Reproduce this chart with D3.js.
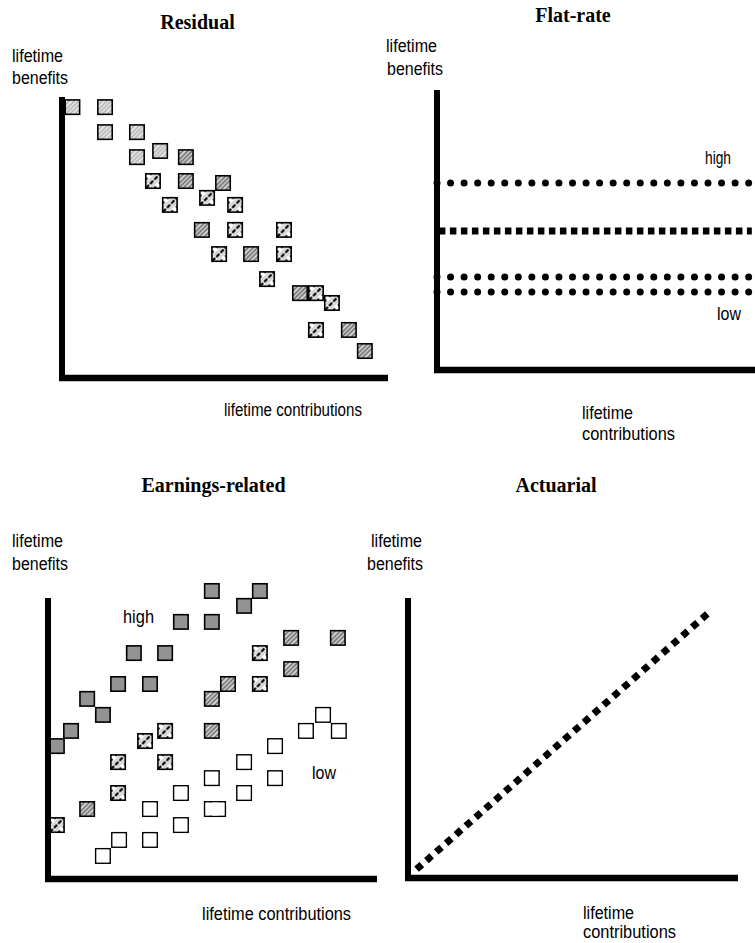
<!DOCTYPE html>
<html><head><meta charset="utf-8">
<script src="https://cdn.jsdelivr.net/npm/d3@7"></script>
<style>body{margin:0;background:#fff} svg{display:block}</style>
</head><body><svg id="c" width="755" height="943"></svg>
<script>
// ---------- data ----------
const titles = ["Residual", "Flat-rate", "Earnings-related", "Actuarial"];
const yLabelLines = ["lifetime", "benefits"];
const xLabelText = "lifetime contributions";
const xLabelLines = ["lifetime", "contributions"];

// Residual: contributions (x), benefits (y), hatch tone
const residualX = [3.2,13.2,13.2,23.0,23.0,30.1,38.0,27.9,38.0,49.4,44.5,33.1,53.1,42.9,53.1,68.1,48.2,58.0,68.1,62.9,73.0,77.9,82.8,77.9,88.0,92.9];
const residualY = [96.4,96.4,87.5,87.5,78.6,80.8,78.6,70.1,70.1,69.4,64.1,61.6,61.6,52.7,52.7,52.7,44.1,44.1,44.1,35.2,30.2,30.2,26.7,17.1,17.1,9.6];
const residualTone = ["light","light","light","light","light","light","medium","dark","medium","medium","dark","dark","dark","medium","dark","dark","dark","medium","dark","dark","medium","dark","dark","dark","medium","medium"];

// Flat-rate: benefit levels (flat lines)
const flatNames = ["high", "middle", "low-a", "low-b"];
const flatLevels = [66.8, 49.6, 33.2, 27.9];
const flatFrom = [0, 0.6, 0, 0];
const flatTo = [99, 99, 99, 99];

// Earnings-related: high earners (grey)
const highX = [49.8,64.4,59.6,40.4,49.8,26.1,35.6,21.3,31.0,11.9,16.7,7.0,2.7];
const highY = [102.5,102.5,97.2,91.5,91.5,80.4,80.4,69.4,69.4,64.1,58.4,52.7,47.3];
// middle earners (hatched)
const midX = [73.9,88.1,64.4,73.9,54.7,64.4,49.8,35.6,49.8,29.5,21.3,35.6,21.3,11.9,2.7];
const midY = [85.8,85.8,80.4,74.7,69.4,69.4,64.1,52.7,52.7,49.1,41.6,41.6,30.6,24.9,19.2];
const midTone = ["medium","medium","dark","medium","medium","dark","medium","dark","medium","dark","dark","dark","dark","medium","dark"];
// low earners (white)
const lowX = [78.4,83.6,88.4,69.0,69.0,59.6,59.6,49.8,49.8,51.7,40.4,40.4,31.0,31.0,21.6,16.7];
const lowY = [52.7,58.4,52.7,47.3,35.9,41.6,30.6,35.9,24.9,24.9,30.6,19.2,24.9,13.9,13.9,8.2];

// Actuarial: benefits proportional to contributions
const actX = [2.6, 90.7];
const actY = [3.15, 94.3];

// ---------- drawing ----------
const svg = d3.select("#c");
const defs = svg.append("defs");
const SANS = "'Liberation Sans Narrow','Arial Narrow','Liberation Sans',Arial,sans-serif";
const SERIF = "'Liberation Serif','Times New Roman',serif";

function diag(c) {
  return c <= 1 ? [0, c, c, 0] : [c - 1, 1, 1, c - 1];
}
function hatch(id, bg, groups) {
  const p = defs.append("pattern").attr("id", id)
    .attr("patternUnits", "objectBoundingBox")
    .attr("patternContentUnits", "objectBoundingBox")
    .attr("width", 1).attr("height", 1);
  p.append("rect").attr("width", 1).attr("height", 1).attr("fill", bg);
  groups.forEach(g => g.c.forEach(c => {
    const [x1, y1, x2, y2] = diag(c);
    p.append("line").attr("x1", x1).attr("y1", y1).attr("x2", x2).attr("y2", y2)
      .attr("stroke", g.color).attr("stroke-width", g.w)
      .attr("stroke-dasharray", g.dash || null);
  }));
}
hatch("h-light", "#f0f0f0", [{c: [0.35, 0.7, 1.0, 1.3, 1.65], color: "#b4b4b4", w: 0.12}]);
hatch("h-medium", "#dedede", [{c: [0.35, 0.7, 1.0, 1.3, 1.65], color: "#666", w: 0.11}]);
hatch("h-dark", "#ffffff", [
  {c: [0.7, 1.3], color: "#aaa", w: 0.07},
  {c: [1.0], color: "#000", w: 0.17, dash: "0.32 0.1"},
  {c: [0.4, 1.6], color: "#000", w: 0.14, dash: "0.16 0.3"}
]);

const SQ = 14.4, SW = 1.6;

function text(x, y, t, opts = {}) {
  const el = svg.append("text").attr("x", x).attr("y", y).text(t)
    .attr("font-family", opts.serif ? SERIF : SANS)
    .attr("font-size", opts.size || 18)
    .attr("font-weight", opts.bold ? "bold" : "normal")
    .attr("text-anchor", opts.anchor || "start")
    .attr("fill", "#000");
  if (opts.len) el.attr("textLength", opts.len).attr("lengthAdjust", "spacingAndGlyphs");
  return el;
}

function axes(x, y, xEnd) {
  const x0 = x(0), y0 = y(0), yTop = y(100);
  svg.append("line").attr("x1", x0).attr("y1", yTop).attr("x2", x0).attr("y2", y0 + 3)
    .attr("stroke", "#000").attr("stroke-width", 6);
  svg.append("line").attr("x1", x0 - 3).attr("y1", y0).attr("x2", xEnd).attr("y2", y0)
    .attr("stroke", "#000").attr("stroke-width", 6.5);
}

function squares(g, xs, ys, x, y, fillFn) {
  g.selectAll(null).data(xs.map((v, i) => ({x: v, y: ys[i], i}))).join("rect")
    .attr("x", d => x(d.x) - SQ / 2).attr("y", d => y(d.y) - SQ / 2)
    .attr("width", SQ).attr("height", SQ)
    .attr("fill", d => fillFn(d.i)).attr("stroke", "#000").attr("stroke-width", SW);
}

// ---- Panel 1: Residual ----
{
  const x = d3.scaleLinear().domain([0, 100]).range([62, 388]);
  const y = d3.scaleLinear().domain([0, 100]).range([378, 97]);
  text(197.5, 29, titles[0], {serif: true, bold: true, size: 20, anchor: "middle"});
  text(12, 62, yLabelLines[0], {len: 51});
  text(12, 84, yLabelLines[1], {len: 56});
  text(224, 416, xLabelText, {len: 138});
  const g = svg.append("g");
  squares(g, residualX, residualY, x, y, i => `url(#h-${residualTone[i]})`);
  axes(x, y, 388);
}

// ---- Panel 2: Flat-rate ----
{
  const x = d3.scaleLinear().domain([0, 100]).range([437, 755]);
  const y = d3.scaleLinear().domain([0, 100]).range([370, 90]);
  text(573, 22, titles[1], {serif: true, bold: true, size: 20, anchor: "middle"});
  text(386, 52, yLabelLines[0], {len: 51});
  text(387, 75, yLabelLines[1], {len: 56});
  text(582, 419, xLabelLines[0], {len: 51});
  text(582, 440, xLabelLines[1], {len: 93});
  text(705, 164, "high", {size: 19, len: 26});
  text(717, 320, "low", {size: 19, len: 24});
  const line = d3.line().x(d => x(d[0])).y(d => y(d[1]));
  flatNames.forEach((n, i) => {
    const squaresStyle = n === "middle";
    svg.append("path")
      .attr("d", line([[flatFrom[i], flatLevels[i]], [flatTo[i], flatLevels[i]]]))
      .attr("fill", "none").attr("stroke", "#000")
      .attr("stroke-width", squaresStyle ? 7 : 7)
      .attr("stroke-linecap", squaresStyle ? "butt" : "round")
      .attr("stroke-dasharray", squaresStyle ? "6.5 4.5" : "0 13.55");
  });
  axes(x, y, 760);
}

// ---- Panel 3: Earnings-related ----
{
  const x = d3.scaleLinear().domain([0, 100]).range([48, 377]);
  const y = d3.scaleLinear().domain([0, 100]).range([879, 598]);
  text(213.5, 492, titles[2], {serif: true, bold: true, size: 20, anchor: "middle"});
  text(12, 547, yLabelLines[0], {len: 51});
  text(12, 570, yLabelLines[1], {len: 56});
  text(202, 920, xLabelText, {len: 149});
  text(123, 623, "high", {size: 19, len: 31});
  text(312, 779, "low", {size: 19, len: 24});
  squares(svg.append("g"), highX, highY, x, y, () => "#939393");
  squares(svg.append("g"), midX, midY, x, y, i => `url(#h-${midTone[i]})`);
  // white boxes: outlines first, then interiors so touching boxes merge
  const gl = svg.append("g");
  squares(gl, lowX, lowY, x, y, () => "#fff");
  gl.selectAll(null).data(lowX.map((v, i) => ({x: v, y: lowY[i]}))).join("rect")
    .attr("x", d => x(d.x) - SQ / 2 + SW / 2).attr("y", d => y(d.y) - SQ / 2 + SW / 2)
    .attr("width", SQ - SW).attr("height", SQ - SW).attr("fill", "#fff");
  axes(x, y, 377);
}

// ---- Panel 4: Actuarial ----
{
  const x = d3.scaleLinear().domain([0, 100]).range([408, 738]);
  const y = d3.scaleLinear().domain([0, 100]).range([878, 598]);
  text(556, 492, titles[3], {serif: true, bold: true, size: 20, anchor: "middle"});
  text(371, 547, yLabelLines[0], {len: 51});
  text(367, 570, yLabelLines[1], {len: 56});
  text(583, 919, xLabelLines[0], {len: 51});
  text(583, 938, xLabelLines[1], {len: 93});
  const line = d3.line().x(d => x(d[0])).y(d => y(d[1]));
  svg.append("path").attr("d", line(actX.map((v, i) => [v, actY[i]])))
    .attr("fill", "none").attr("stroke", "#000").attr("stroke-width", 7)
    .attr("stroke-linecap", "butt").attr("stroke-dasharray", "7 6.1");
  axes(x, y, 738);
}
</script>
</body></html>
